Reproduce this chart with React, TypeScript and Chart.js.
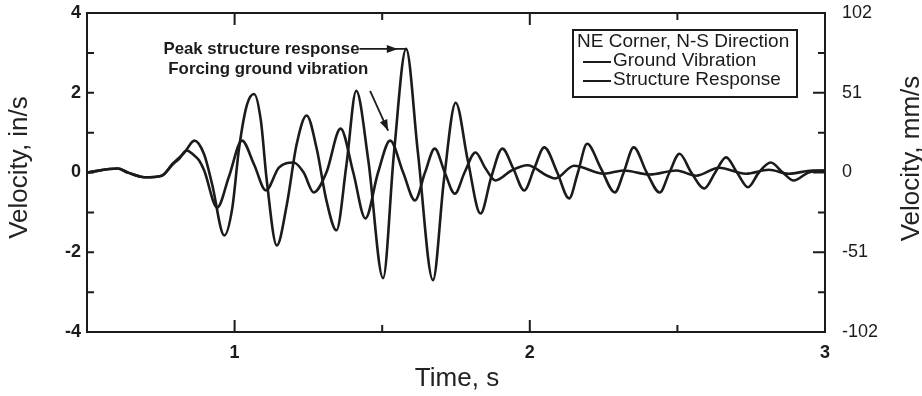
import React, { useEffect, useRef } from 'react';
import { Chart, registerables } from 'chart.js';

Chart.register(...registerables);

// ---- Data (time in s, velocity in in/s) ----
const structureTime = [
  0.5, 0.604, 0.638, 0.695, 0.753, 0.79, 0.83, 0.864, 0.897, 0.924, 0.965, 0.992, 1.015, 1.042, 1.066,
  1.089, 1.109, 1.143, 1.177, 1.21, 1.244, 1.278, 1.311, 1.345, 1.379, 1.412, 1.453, 1.503, 1.54, 1.581,
  1.621, 1.672, 1.709, 1.749, 1.79, 1.833, 1.87, 1.907, 1.944, 1.981, 2.015, 2.049, 2.093, 2.133, 2.163,
  2.194, 2.241, 2.288, 2.318, 2.352, 2.396, 2.44, 2.473, 2.507, 2.547, 2.591, 2.628, 2.665, 2.702, 2.739,
  2.776, 2.816, 2.857, 2.894, 2.944, 3.0,
];
const structureVelocity = [
  0, 0.1, 0.0, -0.12, -0.08, 0.22, 0.5, 0.8, 0.45, -0.3, -1.58, -0.9, 0.6, 1.7, 1.97,
  1.3, -0.2, -1.83, -0.8, 0.7, 1.43, 0.6, -0.7, -1.45, 0.2, 2.05, 0.3, -2.65, 0.5, 3.1,
  0.5, -2.7, -0.2, 1.75, 0.3, -1.03, -0.1, 0.6, 0.1, -0.45, 0.1, 0.63, 0.0, -0.65, 0.0,
  0.72, 0.1, -0.5, 0.0, 0.63, 0.0, -0.5, 0.0, 0.47, 0.0, -0.4, 0.0, 0.38, 0.0, -0.37,
  0.0, 0.25, 0.0, -0.2, 0.0, 0.05,
];

const groundTime = [
  0.5, 0.604, 0.638, 0.695, 0.753, 0.79, 0.813, 0.837, 0.86, 0.88, 0.897, 0.941, 0.981, 1.025, 1.066,
  1.106, 1.15, 1.2, 1.234, 1.268, 1.311, 1.359, 1.402, 1.443, 1.486, 1.527, 1.571, 1.611, 1.645, 1.678,
  1.712, 1.746, 1.779, 1.816, 1.85, 1.884, 1.938, 1.992, 2.059, 2.086, 2.15, 2.251, 2.318, 2.406, 2.497,
  2.564, 2.641, 2.732, 2.81, 2.877, 2.958, 3.0,
];
const groundVelocity = [
  0, 0.1, 0.0, -0.12, -0.08, 0.2, 0.35, 0.55, 0.45, 0.3, 0.05, -0.88, -0.1, 0.8, 0.2,
  -0.45, 0.12, 0.25, 0.0, -0.5, 0.0, 1.1, 0.0, -1.15, 0.0, 0.8, 0.0, -0.7, 0.0, 0.6,
  0.0, -0.53, 0.0, 0.5, 0.1, -0.2, 0.05, 0.18, -0.08, -0.15, 0.17, -0.03, 0.05, -0.05, 0.05,
  -0.08, 0.12, -0.03, 0.07, -0.03, 0.05, 0.05,
];

const xTickValues = [1, 2, 3];
const leftTickValues = [-4, -2, 0, 2, 4];
const rightTickValues = [-102, -51, 0, 51, 102];
const xMinorTicks = [1, 1.5, 2, 2.5];
const yMinorTicks = [-3, -2, -1, 0, 1, 2, 3];

const legendTitle = 'NE Corner, N-S Direction';
const groundName = 'Ground Vibration';
const structureName = 'Structure Response';
const peakLabel = 'Peak structure response';
const forcingLabel = 'Forcing ground vibration';
const leftTitle = 'Velocity, in/s';
const rightTitle = 'Velocity, mm/s';
const xTitle = 'Time, s';

// annotation anchors in data units [time, in/s]
const peakTextEnd = [1.423, 3.1];
const peakArrowEnd = [1.58, 3.1];
const forcingTextEnd = [1.453, 2.58];
const forcingArrowStart = [1.459, 2.05];
const forcingArrowEnd = [1.52, 1.05];

const INK = '#1b1b1b';
const FONT = '"Liberation Sans", Arial, Helvetica, sans-serif';

function arrowHead(ctx: CanvasRenderingContext2D, x1: number, y1: number, x2: number, y2: number) {
  const ang = Math.atan2(y2 - y1, x2 - x1);
  const len = 11;
  const w = 4;
  ctx.beginPath();
  ctx.moveTo(x2, y2);
  ctx.lineTo(x2 - len * Math.cos(ang) + w * Math.sin(ang), y2 - len * Math.sin(ang) - w * Math.cos(ang));
  ctx.lineTo(x2 - len * Math.cos(ang) - w * Math.sin(ang), y2 - len * Math.sin(ang) + w * Math.cos(ang));
  ctx.closePath();
  ctx.fill();
}

const decorPlugin = {
  id: 'decor',
  afterDatasetsDraw(chart: any) {
    const { ctx, chartArea } = chart;
    const { left, right, top, bottom } = chartArea;
    const xs = chart.scales.x;
    const ys = chart.scales.y;
    ctx.save();
    ctx.strokeStyle = INK;
    ctx.fillStyle = INK;
    ctx.lineWidth = 2;
    ctx.strokeRect(left, top, right - left, bottom - top);

    // inward ticks
    xMinorTicks.forEach((v) => {
      const px = xs.getPixelForValue(v);
      const len = Number.isInteger(v) ? 12 : 7;
      ctx.beginPath();
      ctx.moveTo(px, bottom);
      ctx.lineTo(px, bottom - len);
      ctx.moveTo(px, top);
      ctx.lineTo(px, top + len);
      ctx.stroke();
    });
    yMinorTicks.forEach((v) => {
      const py = ys.getPixelForValue(v);
      const lenR = v % 2 === 0 ? 12 : 7;
      ctx.beginPath();
      ctx.moveTo(left, py);
      ctx.lineTo(left + 7, py);
      ctx.moveTo(right, py);
      ctx.lineTo(right - lenR, py);
      ctx.stroke();
    });

    // legend box
    const bx = right - 252;
    const by = top + 17;
    const bw = 224;
    const bh = 67;
    ctx.fillStyle = '#fff';
    ctx.fillRect(bx, by, bw, bh);
    ctx.fillStyle = INK;
    ctx.lineWidth = 2;
    ctx.strokeRect(bx, by, bw, bh);
    ctx.font = `19px ${FONT}`;
    ctx.textBaseline = 'middle';
    ctx.textAlign = 'left';
    ctx.fillText(legendTitle, bx + 4, by + 12, bw - 7);
    [groundName, structureName].forEach((name, i) => {
      const ly = by + 31 + i * 19;
      ctx.beginPath();
      ctx.moveTo(bx + 10, ly + 1);
      ctx.lineTo(bx + 38, ly + 1);
      ctx.stroke();
      ctx.fillText(name, bx + 40, ly);
    });

    // annotations
    ctx.font = `bold 17px ${FONT}`;
    ctx.textAlign = 'right';
    const p1x = xs.getPixelForValue(peakTextEnd[0]);
    const p1y = ys.getPixelForValue(peakTextEnd[1]);
    ctx.fillText(peakLabel, p1x, p1y, 196);
    const pa = xs.getPixelForValue(peakArrowEnd[0]);
    ctx.lineWidth = 1.8;
    ctx.beginPath();
    ctx.moveTo(p1x, p1y);
    ctx.lineTo(pa, p1y);
    ctx.stroke();
    arrowHead(ctx, p1x, p1y, pa - 8, p1y);

    const f1x = xs.getPixelForValue(forcingTextEnd[0]);
    const f1y = ys.getPixelForValue(forcingTextEnd[1]);
    ctx.fillText(forcingLabel, f1x, f1y, 200);
    const fsx = xs.getPixelForValue(forcingArrowStart[0]);
    const fsy = ys.getPixelForValue(forcingArrowStart[1]);
    const fex = xs.getPixelForValue(forcingArrowEnd[0]);
    const fey = ys.getPixelForValue(forcingArrowEnd[1]);
    ctx.beginPath();
    ctx.moveTo(fsx, fsy);
    ctx.lineTo(fex, fey);
    ctx.stroke();
    arrowHead(ctx, fsx, fsy, fex, fey);

    // axis titles
    ctx.font = `26px ${FONT}`;
    ctx.fillStyle = '#222';
    ctx.textAlign = 'center';
    ctx.textBaseline = 'middle';
    ctx.fillText(xTitle, (left + right) / 2 + 1, chart.height - 17);

    ctx.save();
    ctx.translate(20, (top + bottom) / 2 - 5);
    ctx.rotate(-Math.PI / 2);
    ctx.fillText(leftTitle, 0, 0);
    ctx.restore();

    ctx.save();
    ctx.translate(chart.width - 10, (top + bottom) / 2 - 14);
    ctx.rotate(-Math.PI / 2);
    ctx.fillText(rightTitle, 0, 0);
    ctx.restore();

    ctx.restore();
  },
};

export default function App() {
  const canvasRef = useRef<HTMLCanvasElement | null>(null);

  useEffect(() => {
    if (!canvasRef.current) return;
    const lineStyle = {
      borderColor: INK,
      borderWidth: 2.6,
      pointRadius: 0,
      fill: false,
      cubicInterpolationMode: 'monotone' as const,
      yAxisID: 'y',
    };
    const noPad = (s: any) => {
      s.paddingTop = 0;
      s.paddingBottom = 0;
      s.paddingLeft = 0;
      s.paddingRight = 0;
    };
    const chart = new Chart(canvasRef.current, {
      type: 'line',
      data: {
        datasets: [
          {
            ...lineStyle,
            label: groundName,
            data: groundTime.map((t, i) => ({ x: t, y: groundVelocity[i] })),
          },
          {
            ...lineStyle,
            label: structureName,
            data: structureTime.map((t, i) => ({ x: t, y: structureVelocity[i] })),
          },
        ],
      },
      options: {
        animation: false,
        responsive: true,
        maintainAspectRatio: false,
        layout: { padding: { top: 13, left: 0, right: 0, bottom: 0 } },
        plugins: { legend: { display: false }, tooltip: { enabled: false } },
        scales: {
          x: {
            type: 'linear',
            min: 0.5,
            max: 3,
            afterBuildTicks: (s: any) => {
              s.ticks = xTickValues.map((v) => ({ value: v }));
            },
            afterFit: (s: any) => {
              s.height = 64;
              noPad(s);
            },
            grid: { display: false, drawTicks: false },
            border: { display: false },
            ticks: {
              font: { family: FONT, size: 18, weight: 'bold' },
              color: INK,
              padding: 10,
              maxRotation: 0,
              autoSkip: false,
            },
          },
          y: {
            type: 'linear',
            position: 'left',
            min: -4,
            max: 4,
            afterBuildTicks: (s: any) => {
              s.ticks = leftTickValues.map((v) => ({ value: v }));
            },
            afterFit: (s: any) => {
              s.width = 87;
              noPad(s);
            },
            grid: { display: false, drawTicks: false },
            border: { display: false },
            ticks: {
              font: { family: FONT, size: 18, weight: 'bold' },
              color: INK,
              padding: 6,
            },
          },
          y2: {
            type: 'linear',
            position: 'right',
            min: -102,
            max: 102,
            afterBuildTicks: (s: any) => {
              s.ticks = rightTickValues.map((v) => ({ value: v }));
            },
            afterFit: (s: any) => {
              s.width = 97;
              noPad(s);
            },
            grid: { display: false, drawTicks: false },
            border: { display: false },
            ticks: {
              font: { family: FONT, size: 18 },
              color: INK,
              padding: 17,
            },
          },
        },
      },
      plugins: [decorPlugin],
    } as any);
    return () => chart.destroy();
  }, []);

  return (
    <div style={{ position: 'fixed', left: 0, top: 0, width: 922, height: 396, background: '#fff' }}>
      <canvas ref={canvasRef} />
    </div>
  );
}
